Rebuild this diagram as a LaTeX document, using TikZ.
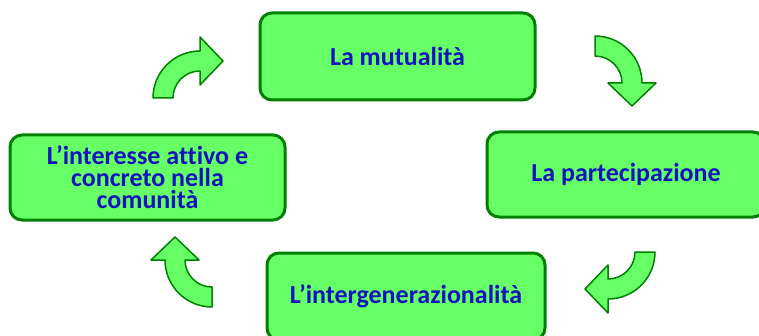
\documentclass[tikz,border=0pt]{standalone}
\usepackage{fontspec}
\setmainfont{Carlito}[Ligatures=NoCommon]
\usepackage{tikz}
\definecolor{boxfill}{RGB}{102,255,102}
\definecolor{boxline}{RGB}{0,128,0}
\definecolor{txtblue}{RGB}{20,20,190}

% bent block arrow: centre, rotation
\newcommand{\turnarrow}[2]{%
  \filldraw[arrowshape, shift={#1}, rotate=#2] (-47,0) arc[start angle=180, end angle=90, radius=47]
    -- (0,61) -- (23,37) -- (0,13) -- (0,27) arc[start angle=90, end angle=180, radius=27] -- cycle;}

\begin{document}
\begin{tikzpicture}[x=1pt, y=1pt,
    stagebox/.style={draw=boxline, line width=3pt, fill=boxfill, rounded corners=12pt,
      text=txtblue, font=\fontsize{26}{22}\selectfont\bfseries, align=center, inner sep=0pt},
    arrowshape/.style={draw=boxline, line width=1.5pt, fill=boxfill, line join=round}]
  \useasboundingbox (0,0) rectangle (759,335);
  \clip (0,0) rectangle (759,335);
  \node[stagebox, minimum width=275pt, minimum height=87pt] (mutual) at (397.5,278.5) {La mutualità};
  \node[stagebox, minimum width=278pt, minimum height=85pt] (partec) at (626,160.5) {La partecipazione};
  \node[stagebox, minimum width=278pt, minimum height=87pt] (intergen) at (406,38.5) {L’intergenerazionalità};
  \node[stagebox, minimum width=275pt, minimum height=85pt] (interesse) at (147.5,157.5)
    {L’interesse attivo e\\concreto nella\\comunità};
  \turnarrow{(200,237)}{0}
  \turnarrow{(595,252)}{-90}
  \turnarrow{(608,83)}{180}
  \turnarrow{(212,75)}{90}
\end{tikzpicture}
\end{document}
